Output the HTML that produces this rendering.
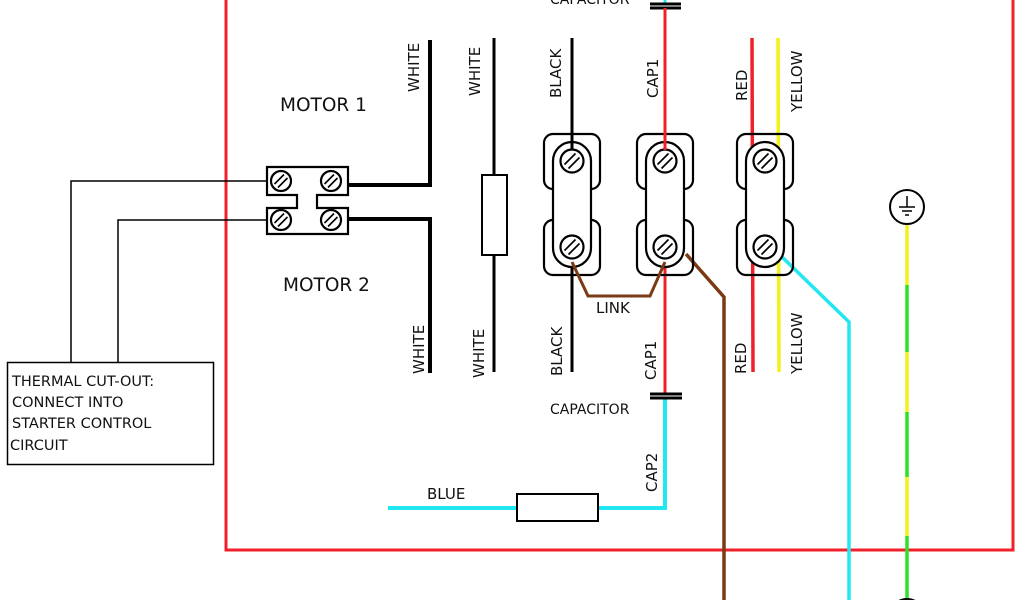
<!DOCTYPE html>
<html><head><meta charset="utf-8"><style>
html,body{margin:0;padding:0;background:#fff;width:1024px;height:600px;overflow:hidden}
svg{display:block;overflow:hidden}
text{font-family:"DejaVu Sans","Liberation Sans",sans-serif;fill:#111}
</style></head><body>
<svg width="1024" height="600" viewBox="0 0 1024 600" xmlns="http://www.w3.org/2000/svg">
<defs>
<g id="scr">
<circle r="10" fill="#fff" stroke="#000" stroke-width="2.2"/>
<line x1="-6.5" y1="3" x2="3" y2="-6.5" stroke="#000" stroke-width="1.6"/>
<line x1="-3" y1="6.5" x2="6.5" y2="-3" stroke="#000" stroke-width="1.6"/>
</g>
<g id="scr2">
<circle r="11.5" fill="#fff" stroke="#000" stroke-width="2.2"/>
<line x1="-7.5" y1="3.5" x2="3.5" y2="-7.5" stroke="#000" stroke-width="1.7"/>
<line x1="-3.5" y1="7.5" x2="7.5" y2="-3.5" stroke="#000" stroke-width="1.7"/>
</g>
<g id="blk">
<rect x="-28" y="0" width="56" height="55" rx="9" fill="none" stroke="#000" stroke-width="2.2"/>
<rect x="-28" y="86" width="56" height="55" rx="9" fill="none" stroke="#000" stroke-width="2.2"/>
<rect x="-19" y="8" width="38" height="125" rx="19" fill="#fff" stroke="#000" stroke-width="2.2"/>
<use href="#scr2" x="0" y="27"/>
<use href="#scr2" x="0" y="113"/>
</g>
</defs>
<polyline points="226,0 226,550 1013,550 1013,0" fill="none" stroke="#f0202a" stroke-width="3"/>
<line x1="665" y1="8" x2="665" y2="160" stroke="#f0202a" stroke-width="3"/>
<line x1="665" y1="0" x2="665" y2="4" stroke="#22e6f0" stroke-width="3"/>
<line x1="650" y1="4" x2="681" y2="4" stroke="#000" stroke-width="3"/>
<line x1="650" y1="8" x2="681" y2="8" stroke="#000" stroke-width="3"/>
<text x="550" y="4" font-size="14">CAPACITOR</text>
<polyline points="267,181 71,181 71,362" fill="none" stroke="#000" stroke-width="1.5"/>
<polyline points="267,220 118,220 118,362" fill="none" stroke="#000" stroke-width="1.5"/>
<rect x="7.5" y="362.5" width="206" height="102" fill="#fff" stroke="#000" stroke-width="1.5"/>
<text font-size="14.5"><tspan x="12" y="386">THERMAL CUT-OUT:</tspan><tspan x="12" y="407">CONNECT INTO</tspan><tspan x="12" y="428">STARTER CONTROL</tspan><tspan x="10" y="450">CIRCUIT</tspan></text>
<polyline points="347,185 430,185 430,40" fill="none" stroke="#000" stroke-width="4"/>
<polyline points="347,219 430,219 430,373" fill="none" stroke="#000" stroke-width="4"/>
<path d="M267,167 H348 V195 H317 V208 H348 V234 H267 V208 H297 V195 H267 Z" fill="#fff" stroke="#000" stroke-width="2.2"/>
<use href="#scr" x="281" y="181"/><use href="#scr" x="331" y="181"/>
<use href="#scr" x="281" y="220"/><use href="#scr" x="331" y="220"/>
<text x="280" y="111" font-size="18.5">MOTOR 1</text>
<text x="283" y="291" font-size="18.5">MOTOR 2</text>
<line x1="494" y1="38" x2="494" y2="372" stroke="#000" stroke-width="3"/>
<rect x="482" y="175" width="25" height="80" fill="#fff" stroke="#000" stroke-width="2"/>
<line x1="572" y1="38" x2="572" y2="372" stroke="#000" stroke-width="3"/>
<line x1="665" y1="246" x2="665" y2="394" stroke="#f0202a" stroke-width="3"/>
<polyline points="665,398 665,508 388,508" fill="none" stroke="#22e6f0" stroke-width="4"/>
<line x1="650" y1="394" x2="682" y2="394" stroke="#000" stroke-width="3"/>
<line x1="650" y1="398" x2="682" y2="398" stroke="#000" stroke-width="3"/>
<rect x="517" y="494" width="81" height="27" fill="#fff" stroke="#000" stroke-width="2"/>
<line x1="752" y1="38" x2="753" y2="372" stroke="#f0202a" stroke-width="3.5"/>
<line x1="778" y1="38" x2="779" y2="372" stroke="#f5f01a" stroke-width="3.5"/>
<polyline points="686,254 724,297 724,600" fill="none" stroke="#7a3a14" stroke-width="3.5"/>
<polyline points="780,255 849,322 849,600" fill="none" stroke="#22e6f0" stroke-width="3.5"/>
<use href="#blk" x="572" y="134"/>
<use href="#blk" x="665" y="134"/>
<use href="#blk" x="765" y="134"/>
<line x1="572" y1="38" x2="572" y2="150" stroke="#000" stroke-width="3"/>
<line x1="665" y1="8" x2="665" y2="150" stroke="#f0202a" stroke-width="3"/>
<polyline points="572,262 588,296 650,296 665,262" fill="none" stroke="#7a3a14" stroke-width="3"/>
<line x1="907" y1="225" x2="907" y2="285" stroke="#f5f01a" stroke-width="3.5"/>
<line x1="907" y1="285" x2="907" y2="352" stroke="#2fe02a" stroke-width="3.5"/>
<line x1="907" y1="352" x2="907" y2="412" stroke="#f5f01a" stroke-width="3.5"/>
<line x1="907" y1="412" x2="907" y2="477" stroke="#2fe02a" stroke-width="3.5"/>
<line x1="907" y1="477" x2="907" y2="536" stroke="#f5f01a" stroke-width="3.5"/>
<line x1="907" y1="536" x2="907" y2="600" stroke="#2fe02a" stroke-width="3.5"/>
<circle cx="907" cy="207" r="17" fill="#fff" stroke="#000" stroke-width="2"/>
<line x1="907" y1="196" x2="907" y2="207" stroke="#000" stroke-width="1.5"/>
<line x1="899" y1="207" x2="915" y2="207" stroke="#000" stroke-width="1.5"/>
<line x1="902" y1="211" x2="912" y2="211" stroke="#000" stroke-width="1.5"/>
<line x1="905" y1="215" x2="909" y2="215" stroke="#000" stroke-width="1.5"/>
<circle cx="907" cy="616" r="17" fill="#fff" stroke="#000" stroke-width="2"/>
<g font-size="15">
<text transform="translate(419,92) rotate(-90)">WHITE</text>
<text transform="translate(480,96) rotate(-90)">WHITE</text>
<text transform="translate(561,98) rotate(-90)">BLACK</text>
<text transform="translate(658,98) rotate(-90)">CAP1</text>
<text transform="translate(747,101) rotate(-90)">RED</text>
<text transform="translate(802,112) rotate(-90)">YELLOW</text>
<text transform="translate(424,374) rotate(-90)">WHITE</text>
<text transform="translate(484,378) rotate(-90)">WHITE</text>
<text transform="translate(562,376) rotate(-90)">BLACK</text>
<text transform="translate(656,380) rotate(-90)">CAP1</text>
<text transform="translate(746,374) rotate(-90)">RED</text>
<text transform="translate(802,374) rotate(-90)">YELLOW</text>
<text transform="translate(657,492) rotate(-90)">CAP2</text>
<text x="596" y="313">LINK</text>
<text x="427" y="499">BLUE</text>
</g>
<text x="550" y="414" font-size="14">CAPACITOR</text>
</svg>
</body></html>
